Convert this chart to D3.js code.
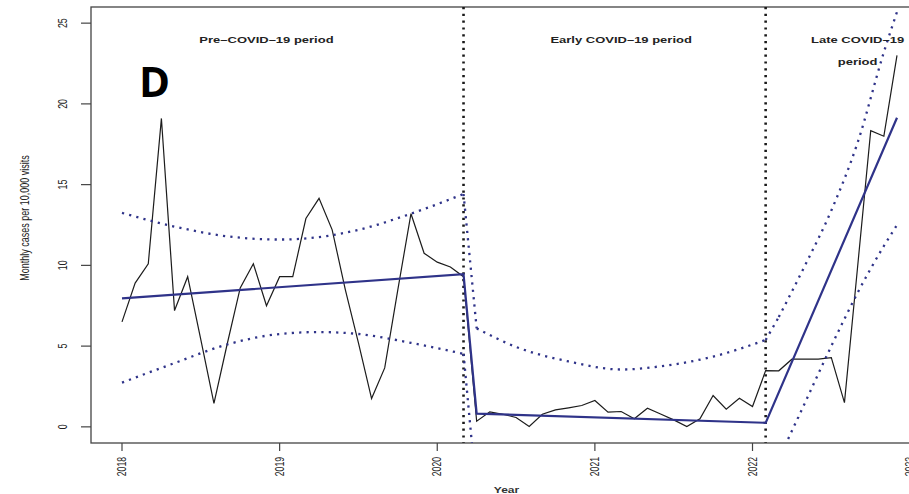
<!DOCTYPE html>
<html><head><meta charset="utf-8">
<script src="https://cdn.jsdelivr.net/npm/d3@7"></script>
<style>body{margin:0;background:#fff;overflow:hidden;} svg{display:block;}</style>
</head><body>
<svg id="chart" width="909" height="494"></svg>
<script>
// ---- data (months since Jan 2018) ----
const observed = [6.5, 8.9, 10.1, 19.1, 7.2, 9.3, 5.4, 1.45, 5.1, 8.6, 10.1, 7.5, 9.3, 9.3, 12.9, 14.15, 12.2, 8.5, 5.2, 1.75,
  3.65, 8.5, 13.2, 10.75, 10.2, 9.9, 9.3, 0.35, 0.93, 0.78, 0.58, 0.02, 0.78, 1.05, 1.18, 1.32, 1.63, 0.91, 0.95, 0.5,
  1.15, 0.8, 0.43, 0.02, 0.5, 1.94, 1.09, 1.77, 1.26, 3.48, 3.47, 4.19, 4.2, 4.2, 4.29, 1.5, 9.9, 18.34, 18.0, 23.0];
const fitMonths = [0, 26, 27, 49, 59];
const fitValues = [7.96, 9.45, 0.82, 0.25, 19.14];
const upperPreMonths = [0, 4, 8, 12, 15, 18, 22, 26];
const upperPre = [13.25, 12.4, 11.8, 11.6, 11.75, 12.2, 13.2, 14.42];
const lowerPre = [2.74, 3.95, 5.1, 5.75, 5.87, 5.75, 5.2, 4.52];
const upperEarlyMonths = [27, 30, 34, 38, 41, 45, 49];
const upperEarly = [6.1, 4.95, 4.05, 3.55, 3.75, 4.35, 5.38];
const lowerEarlyMonths = [27, 38, 49];
const lowerEarly = [-4.2, -2.6, -4.8];
const lateMonths = [50, 52, 54, 56, 58, 59];
const upperLate = [6.8, 10.0, 13.4, 17.6, 23.2, 25.7];
const lowerLate = [-2.0, 1.5, 5.0, 8.3, 11.2, 12.5];
const interventionMonths = [26, 49];
const xTickMonths = [0, 12, 24, 36, 48, 60];
const xTickLabels = ["2018", "2019", "2020", "2021", "2022", "2023"];
const yTicks = [0, 5, 10, 15, 20, 25];
const periodLabels = [["Pre–COVID–19 period"], ["Early COVID–19 period"], ["Late COVID–19", "period"]];
const periodCenters = [11, 38, 56];

// ---- layout ----
const L = 91, T = 7, R = 928, B = 443;
const svg = d3.select("#chart");
const x = d3.scaleLinear().domain([-2.36, 61.36]).range([L, R]);
const y = d3.scaleLinear().domain([-1, 26]).range([B, T]);
const navy = "#2f3389";

svg.append("defs").append("clipPath").attr("id", "plotclip")
  .append("rect").attr("x", L).attr("y", T).attr("width", R - L).attr("height", B - T);

// box
svg.append("rect").attr("x", L).attr("y", T).attr("width", R - L).attr("height", B - T)
  .attr("fill", "none").attr("stroke", "#444").attr("stroke-width", 1.3);

// y axis ticks
const g = svg.append("g");
yTicks.forEach(v => {
  g.append("line").attr("x1", L - 10).attr("x2", L).attr("y1", y(v)).attr("y2", y(v))
    .attr("stroke", "#444").attr("stroke-width", 1.2);
  g.append("text").attr("transform", `translate(62.5,${y(v)}) rotate(-90) scale(0.74,1)`)
    .attr("text-anchor", "middle").attr("dominant-baseline", "central")
    .attr("font-family", "Liberation Sans, Arial, sans-serif").attr("font-size", 12).attr("fill", "#222")
    .text(v);
});
// x axis ticks
xTickMonths.forEach((m, i) => {
  g.append("line").attr("x1", x(m)).attr("x2", x(m)).attr("y1", B).attr("y2", B + 8)
    .attr("stroke", "#444").attr("stroke-width", 1.2);
  g.append("text").attr("transform", `translate(${x(m)},${B + 14}) rotate(-90) scale(0.72,1)`)
    .attr("text-anchor", "end").attr("dominant-baseline", "central")
    .attr("font-family", "Liberation Sans, Arial, sans-serif").attr("font-size", 12).attr("fill", "#222")
    .text(xTickLabels[i]);
});
// axis titles
svg.append("text").attr("transform", `translate(24,218) rotate(-90) scale(0.75,1)`)
  .attr("text-anchor", "middle").attr("dominant-baseline", "central")
  .attr("font-family", "Liberation Sans, Arial, sans-serif").attr("font-size", 12).attr("fill", "#222")
  .text("Monthly cases per 10,000 visits");
svg.append("text").attr("transform", `translate(${(L + R) / 2 - 3},493) scale(1,0.78)`)
  .attr("text-anchor", "middle").attr("font-weight", "bold")
  .attr("font-family", "Liberation Sans, Arial, sans-serif").attr("font-size", 12).attr("fill", "#333")
  .text("Year");

// plot content
const pg = svg.append("g").attr("clip-path", "url(#plotclip)");

// intervention lines
interventionMonths.forEach(m => {
  pg.append("line").attr("x1", x(m)).attr("x2", x(m)).attr("y1", T).attr("y2", B)
    .attr("stroke", "#1a1a1a").attr("stroke-width", 2.6).attr("stroke-dasharray", "2.2,4.6");
});

// observed
const line = d3.line().x(d => x(d[0])).y(d => y(d[1]));
pg.append("path").datum(observed.map((v, i) => [i, v])).attr("d", line)
  .attr("fill", "none").attr("stroke", "#1c1c1c").attr("stroke-width", 1.2);

// bands
const curve = d3.line().x(d => x(d[0])).y(d => y(d[1])).curve(d3.curveMonotoneX);
const zip = (ms, vs) => ms.map((m, i) => [m, vs[i]]);
const bandSegs = [
  [zip(upperPreMonths, upperPre), zip(upperEarlyMonths, upperEarly), zip(lateMonths, upperLate)],
  [zip(upperPreMonths, lowerPre), zip(lowerEarlyMonths, lowerEarly), zip(lateMonths, lowerLate)]
];
bandSegs.forEach(segs => {
  segs.forEach((s, i) => {
    pg.append("path").datum(s).attr("d", curve).attr("fill", "none")
      .attr("stroke", navy).attr("stroke-width", 2.3).attr("stroke-dasharray", "2.2,5.2");
    if (i < segs.length - 1) {
      const a = s[s.length - 1], b = segs[i + 1][0];
      pg.append("path").datum([a, b]).attr("d", line).attr("fill", "none")
        .attr("stroke", navy).attr("stroke-width", 2.3).attr("stroke-dasharray", "2.2,5.2");
    }
  });
});

// fitted
pg.append("path").datum(zip(fitMonths, fitValues)).attr("d", line)
  .attr("fill", "none").attr("stroke", navy).attr("stroke-width", 2.2);

// period labels
periodLabels.forEach((lines, i) => {
  lines.forEach((t, j) => {
    svg.append("text").attr("transform", `translate(${x(periodCenters[i])},${43 + j * 22}) scale(1,0.76)`)
      .attr("text-anchor", "middle").attr("font-weight", "bold")
      .attr("font-family", "Liberation Sans, Arial, sans-serif").attr("font-size", 13).attr("fill", "#222")
      .text(t);
  });
});

// panel letter
svg.append("text").attr("x", 139).attr("y", 97)
  .attr("font-family", "Open Sans, Noto Sans, sans-serif").attr("font-weight", 700)
  .attr("font-size", 42).attr("fill", "#000").text("D");
</script>
</body></html>
